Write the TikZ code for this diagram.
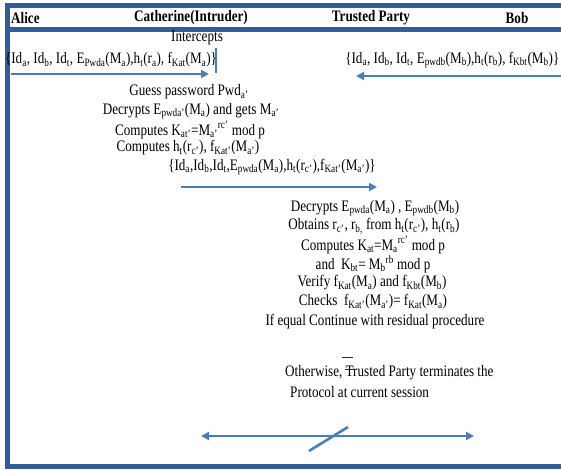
\documentclass[tikz,border=0pt]{standalone}
\usepackage{fontspec}
\setmainfont[FakeStretch=0.82]{Liberation Serif}
\usetikzlibrary{arrows.meta}
\definecolor{frameblue}{RGB}{47,94,152}
\definecolor{arrowblue}{RGB}{74,126,187}
\newcommand\lo[1]{\textsubscript{#1}}
\newcommand\hi[1]{\textsuperscript{#1}}
\begin{document}
\begin{tikzpicture}[x=1pt,y=-1pt,
  every node/.style={inner sep=0pt, font=\fontsize{16}{18}\selectfont},
  head/.style={font=\fontsize{16}{18}\selectfont\bfseries},
  frameline/.style={draw=frameblue, line width=5pt},
  msgarrow/.style={draw=arrowblue, line width=2.6pt, -{Triangle[length=8pt,width=8pt]}},
  botharrow/.style={draw=arrowblue, line width=2.6pt, {Triangle[length=8pt,width=8pt]}-{Triangle[length=8pt,width=8pt]}},
  markline/.style={draw=arrowblue, line width=2.6pt},
  stray/.style={draw=black!85, line width=0.7pt}]
\useasboundingbox (0,0) rectangle (561,470);

% frame and header rule
\draw[frameline] (561,5.5) -- (7,5.5) -- (7,466.5) -- (561,466.5);
\draw[frameline] (7,29.5) -- (561,29.5);

% column headings
\node[head, anchor=west] (alice) at (11,18) {Alice};
\node[head] (cath) at (191,18) {Catherine(Intruder)};
\node[head] (tp) at (371,18) {Trusted Party};
\node[head] (bob) at (517,18) {Bob};

% interception of Alice's message
\node (icpt) at (197,38) {Intercepts};
\coordinate (cutT) at (216,48);
\coordinate (cutB) at (216,73);
\draw[markline] (cutT) -- (cutB);

\node (m1) at (111,60) {\{Id\lo{a}, Id\lo{b}, Id\lo{t}, E\lo{Pwda}(M\lo{a}),h\lo{t}(r\lo{a}), f\lo{Kat}(M\lo{a})\}};
\coordinate (m1s) at (11,74);
\coordinate (m1e) at (209,74);
\draw[msgarrow] (m1s) -- (m1e);

\node[anchor=east] (m2) at (559.5,60) {\{Id\lo{a}, Id\lo{b}, Id\lo{t}, E\lo{pwdb}(M\lo{b}),h\lo{t}(r\lo{b}), f\lo{Kbt}(M\lo{b})\}};
\coordinate (m2s) at (561,76);
\coordinate (m2e) at (356,76);
\draw[msgarrow] (m2s) -- (m2e);

% intruder's computations
\node (c1) at (189,92) {Guess password Pwd\lo{a'}};
\node (c2) at (191,111) {Decrypts E\lo{pwda'}(M\lo{a}) and gets M\lo{a'}};
\node (c3) at (190,130) {Computes K\lo{at'}=M\lo{a'}\hi{rc'} mod p};
\node (c4) at (188,148) {Computes h\lo{t}(r\lo{c'}), f\lo{Kat'}(M\lo{a'})};
\node (m3) at (272,167) {\{Id\lo{a},Id\lo{b},Id\lo{t},E\lo{pwda}(M\lo{a}),h\lo{t}(r\lo{c'}),f\lo{Kat'}(M\lo{a'})\}};
\coordinate (m3s) at (181,187);
\coordinate (m3e) at (377,187);
\draw[msgarrow] (m3s) -- (m3e);

% trusted party's checks
\node (t1) at (375,208) {Decrypts E\lo{pwda}(M\lo{a}) , E\lo{pwdb}(M\lo{b})};
\node (t2) at (374,226) {Obtains r\lo{c'}, r\lo{b,} from h\lo{t}(r\lo{c'}), h\lo{t}(r\lo{b})};
\node (t3) at (373,245) {Computes K\lo{at}=M\lo{a}\hi{rc'} mod p};
\node (t4) at (373,264) {and\ \ K\lo{bt}= M\lo{b}\hi{rb} mod p};
\node (t5) at (372,283) {Verify f\lo{Kat}(M\lo{a}) and f\lo{Kbt}(M\lo{b})};
\node (t6) at (373,302) {Checks\ \ f\lo{Kat'}(M\lo{a'})= f\lo{Kat}(M\lo{a})};
\node (t7) at (375,322) {If equal Continue with residual procedure};

\node[anchor=west] (t8) at (285,373) {Otherwise, Trusted Party terminates the};
\node[anchor=west] (t9) at (290,392) {Protocol at current session};
\draw[stray] (342,357) -- (353,357);
\draw[stray] (345,369) -- (355,369);

% terminated exchange
\coordinate (xl) at (201,436);
\coordinate (xr) at (474,436);
\draw[botharrow] (xl) -- (xr);
\coordinate (sl) at (309,451);
\coordinate (sr) at (348,427);
\draw[markline] (sl) -- (sr);
\end{tikzpicture}
\end{document}
